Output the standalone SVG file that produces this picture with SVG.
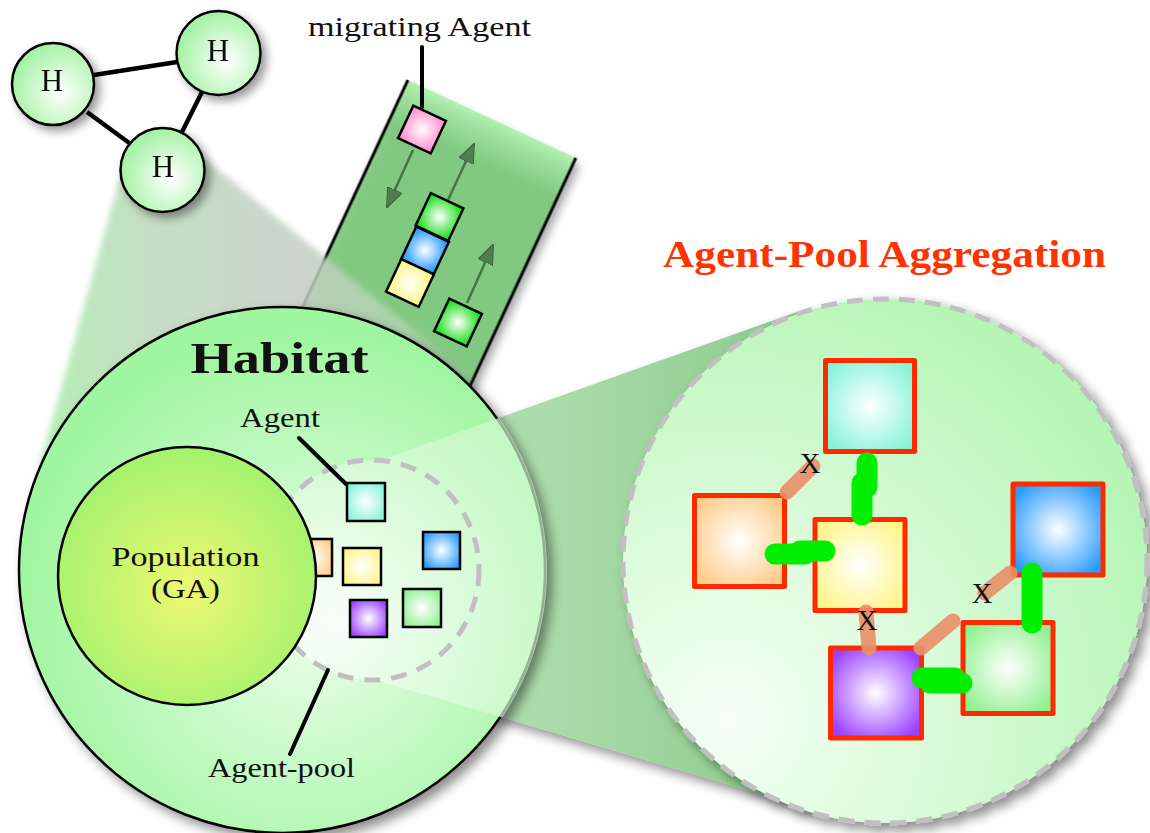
<svg xmlns="http://www.w3.org/2000/svg" width="1150" height="833" viewBox="0 0 1150 833">
<defs>
<style>
text{font-family:"Liberation Serif","DejaVu Serif",serif;fill:#111}
.lbl{font-size:28px}
.ptr{stroke:#000;stroke-width:4;stroke-linecap:round;fill:none}
.hedge{stroke:#000;stroke-width:4.5;fill:none}
.hnode{fill:url(#gH);stroke:#000;stroke-width:2.5}
.sq{stroke:#000;stroke-width:2.5}
.rsq{stroke:#ff2a00;stroke-width:5;stroke-linejoin:round}
.sal{stroke:#e8906a;stroke-width:15;stroke-linecap:round;fill:none;opacity:0.92}
.grn{stroke:#00ee00;stroke-width:21;stroke-linecap:round;fill:none}
.arr{stroke:#2f4f2f;stroke-width:2.5;opacity:0.7;marker-end:url(#ah)}
.xl{font-size:29px;text-anchor:middle}
</style>
<filter id="sh" x="-20%" y="-20%" width="150%" height="150%">
<feDropShadow dx="6" dy="6" stdDeviation="6" flood-color="#000" flood-opacity="0.45"/>
</filter>
<filter id="shs" x="-30%" y="-30%" width="170%" height="170%">
<feDropShadow dx="5" dy="5" stdDeviation="5" flood-color="#000" flood-opacity="0.4"/>
</filter>
<filter id="soft" x="-10%" y="-10%" width="120%" height="120%">
<feGaussianBlur stdDeviation="3"/>
</filter>
<marker id="ah" markerUnits="userSpaceOnUse" markerWidth="20" markerHeight="16" viewBox="0 0 20 16" refX="19" refY="8" orient="auto">
<path d="M0,0 L20,8 L0,16 z" fill="#3a5f3a" stroke="#223322" stroke-width="1"/>
</marker>
<radialGradient id="gH" cx="0.6" cy="0.6" r="0.6"><stop offset="0" stop-color="#ffffff"/><stop offset="1" stop-color="#a4f2a4"/></radialGradient>
<radialGradient id="gHab" cx="0.55" cy="0.6" r="0.55"><stop offset="0" stop-color="#edfeed"/><stop offset="1" stop-color="#a0f6a0"/></radialGradient>
<radialGradient id="gPop" cx="0.5" cy="0.55" r="0.55"><stop offset="0" stop-color="#eef872"/><stop offset="1" stop-color="#a4f26e"/></radialGradient>
<radialGradient id="gRight" cx="0.2" cy="0.8" r="1"><stop offset="0" stop-color="#f6fff6"/><stop offset="1" stop-color="#aef4ae"/></radialGradient>
<linearGradient id="gHcone" gradientUnits="userSpaceOnUse" x1="40" y1="0" x2="470" y2="0"><stop offset="0" stop-color="#a8eca8"/><stop offset="0.25" stop-color="#bcd8bc"/><stop offset="0.6" stop-color="#c4cec4"/><stop offset="1" stop-color="#a8dca8"/></linearGradient>
<linearGradient id="gBand" gradientUnits="userSpaceOnUse" x1="0" y1="0" x2="0" y2="45"><stop offset="0" stop-color="#a8f0a8"/><stop offset="1" stop-color="#78c778"/></linearGradient>
<linearGradient id="gConeOut" gradientUnits="userSpaceOnUse" x1="540" y1="0" x2="800" y2="0"><stop offset="0" stop-color="#acdcac"/><stop offset="1" stop-color="#8ccb8c"/></linearGradient>
<radialGradient id="gConeIn" gradientUnits="userSpaceOnUse" cx="340" cy="620" r="230"><stop offset="0" stop-color="#ffffff" stop-opacity="0.7"/><stop offset="1" stop-color="#d0f8d0" stop-opacity="0.7"/></radialGradient>
<clipPath id="habClip"><circle cx="282" cy="570" r="265"/></clipPath>
<radialGradient id="sCy" r="0.6"><stop offset="0" stop-color="#fff"/><stop offset="1" stop-color="#86f3d8"/></radialGradient>
<radialGradient id="sOr" r="0.6"><stop offset="0" stop-color="#fff"/><stop offset="1" stop-color="#ffcc88"/></radialGradient>
<radialGradient id="sYe" r="0.6"><stop offset="0" stop-color="#fff"/><stop offset="1" stop-color="#fff588"/></radialGradient>
<radialGradient id="sBl" r="0.6"><stop offset="0" stop-color="#fff"/><stop offset="1" stop-color="#2a9cff"/></radialGradient>
<radialGradient id="sPu" r="0.6"><stop offset="0" stop-color="#fff"/><stop offset="1" stop-color="#9a40ff"/></radialGradient>
<radialGradient id="sGr" r="0.6"><stop offset="0" stop-color="#fff"/><stop offset="1" stop-color="#90f090"/></radialGradient>
<radialGradient id="sGb" r="0.6"><stop offset="0" stop-color="#fff"/><stop offset="1" stop-color="#22e022"/></radialGradient>
<radialGradient id="sPk" r="0.6"><stop offset="0" stop-color="#fff"/><stop offset="1" stop-color="#ff90d0"/></radialGradient>
</defs>
<rect width="1150" height="833" fill="#fff"/>

<!-- migration band -->
<g id="migration-band">
<g transform="translate(408,80) rotate(24.9)" filter="url(#shs)">
<rect x="0" y="0" width="185" height="330" fill="url(#gBand)" opacity="0.88"/>
<line x1="0" y1="0" x2="0" y2="330" stroke="#000" stroke-width="3"/>
<line x1="185" y1="0" x2="185" y2="330" stroke="#000" stroke-width="3"/>
</g>
</g>

<!-- cone from H node to habitat -->
<polygon id="h-cone" points="120,177 203,157 470,376 450,420 60,480 40,463" fill="url(#gHcone)" opacity="0.85" filter="url(#soft)"/>

<!-- band agents -->
<g id="band-agents">
<rect class="sq" x="-18" y="-18" width="36" height="36" fill="url(#sPk)" transform="translate(422,129.5) rotate(25)"/>
<rect class="sq" x="-18" y="-18" width="36" height="36" fill="url(#sGb)" transform="translate(439.5,217) rotate(25)"/>
<rect class="sq" x="-18" y="-18" width="36" height="36" fill="url(#sBl)" transform="translate(425,250.5) rotate(25)"/>
<rect class="sq" x="-18" y="-18" width="36" height="36" fill="url(#sYe)" transform="translate(410,283) rotate(25)"/>
<rect class="sq" x="-18" y="-18" width="36" height="36" fill="url(#sGb)" transform="translate(458,322.5) rotate(25)"/>
</g>

<!-- zoom cone outside -->
<polygon id="zoom-cone" points="372,463 797,312 885,561 812,809 372,679" fill="url(#gConeOut)" filter="url(#sh)"/>

<!-- habitat -->
<g id="habitat">
<circle cx="282" cy="570" r="263" fill="url(#gHab)" stroke="#000" stroke-width="2.5" filter="url(#sh)"/>
<path d="M372,463 L797,312 L885,561 L812,809 L372,679 Z M265,570 A107,110 0 0,1 479,570 A107,110 0 0,1 265,570 Z" fill="url(#gConeIn)" fill-rule="nonzero" clip-path="url(#habClip)"/>
<text x="279.5" y="373" font-size="44" font-weight="bold" text-anchor="middle" textLength="178" lengthAdjust="spacingAndGlyphs">Habitat</text>
</g>

<g id="agent-pool">
<ellipse cx="372" cy="570" rx="107" ry="110" fill="none" stroke="#c0c0c0" stroke-width="5" stroke-dasharray="16 11"/>
<rect class="sq" x="294" y="539" width="38" height="37" fill="url(#sOr)"/>
</g>

<g id="population">
<circle cx="187" cy="576" r="129" fill="url(#gPop)" stroke="#000" stroke-width="2.5"/>
<text class="lbl" x="185.5" y="566" text-anchor="middle" textLength="148" lengthAdjust="spacingAndGlyphs">Population</text>
<text class="lbl" x="185.5" y="598" text-anchor="middle" textLength="69" lengthAdjust="spacingAndGlyphs">(GA)</text>
</g>

<g id="habitat-agents">
<rect class="sq" x="347" y="483" width="38" height="38" fill="url(#sCy)"/>
<rect class="sq" x="343" y="548" width="38" height="37" fill="url(#sYe)"/>
<rect class="sq" x="423" y="532" width="37" height="37" fill="url(#sBl)"/>
<rect class="sq" x="350" y="600" width="37" height="37" fill="url(#sPu)"/>
<rect class="sq" x="403" y="589" width="38" height="38" fill="url(#sGr)"/>
</g>

<!-- connectors: pointers, arrows, links -->
<g id="connectors">
<line class="ptr" x1="422" y1="47" x2="422" y2="107"/>
<line class="ptr" x1="299" y1="438" x2="346" y2="484"/>
<line class="ptr" x1="328" y1="670" x2="290" y2="754"/>
<line class="arr" x1="413" y1="150" x2="387" y2="207"/>
<line class="arr" x1="448" y1="200" x2="474" y2="144"/>
<line class="arr" x1="467" y1="303" x2="493" y2="245"/>
<line class="hedge" x1="94" y1="75" x2="177" y2="62"/>
<line class="hedge" x1="87" y1="112" x2="132" y2="145"/>
<line class="hedge" x1="202" y1="92" x2="182" y2="132"/>
</g>

<g id="labels">
<text class="lbl" x="419.5" y="36" text-anchor="middle" textLength="223" lengthAdjust="spacingAndGlyphs">migrating Agent</text>
<text class="lbl" x="280" y="427" text-anchor="middle" textLength="80" lengthAdjust="spacingAndGlyphs">Agent</text>
<text class="lbl" x="281.5" y="777" text-anchor="middle" textLength="147" lengthAdjust="spacingAndGlyphs">Agent-pool</text>
<text x="884.5" y="267" font-size="38" font-weight="bold" text-anchor="middle" style="fill:#ff3300" textLength="443" lengthAdjust="spacingAndGlyphs">Agent-Pool Aggregation</text>
</g>

<!-- H nodes -->
<g id="node-h1" filter="url(#shs)"><circle class="hnode" cx="53" cy="84" r="41"/><text x="52" y="91" font-size="31" text-anchor="middle">H</text></g>
<g id="node-h2" filter="url(#shs)"><circle class="hnode" cx="218.5" cy="53" r="42"/><text x="218" y="61" font-size="31" text-anchor="middle">H</text></g>
<g id="node-h3" filter="url(#shs)"><circle class="hnode" cx="162.5" cy="170" r="42"/><text x="163" y="177" font-size="31" text-anchor="middle">H</text></g>

<!-- aggregation circle -->
<g id="aggregation">
<circle cx="885" cy="561" r="262" fill="url(#gRight)" stroke="#c0c0c0" stroke-width="5" stroke-dasharray="16 10" filter="url(#sh)"/>
<rect class="rsq" x="825.5" y="360.5" width="89" height="91" fill="url(#sCy)"/>
<rect class="rsq" x="694.5" y="495.5" width="90" height="91" fill="url(#sOr)"/>
<rect class="rsq" x="815" y="519.5" width="90" height="91" fill="url(#sYe)"/>
<rect class="rsq" x="1013" y="484" width="90" height="91" fill="url(#sBl)"/>
<rect class="rsq" x="963" y="622.5" width="90" height="91" fill="url(#sGr)"/>
<rect class="rsq" x="830.5" y="648" width="91" height="90" fill="url(#sPu)"/>
<line class="sal" x1="787" y1="492" x2="813" y2="466"/>
<line class="sal" x1="866" y1="612" x2="869" y2="648"/>
<line class="sal" x1="921" y1="648" x2="953" y2="621"/>
<line class="sal" x1="985" y1="593" x2="1010" y2="573"/>
<line class="grn" x1="867" y1="463" x2="867" y2="487"/>
<line class="grn" x1="862" y1="483" x2="862" y2="515"/>
<line class="grn" x1="775" y1="554" x2="805" y2="554"/>
<line class="grn" x1="800" y1="551" x2="825" y2="551"/>
<line class="grn" x1="1032" y1="573" x2="1032" y2="623"/>
<line class="grn" x1="922" y1="678" x2="955" y2="678"/>
<line class="grn" x1="930" y1="683" x2="962" y2="683"/>
<text class="xl" x="810" y="473">X</text>
<text class="xl" x="867" y="630">X</text>
<text class="xl" x="982" y="603">X</text>
</g>
</svg>
